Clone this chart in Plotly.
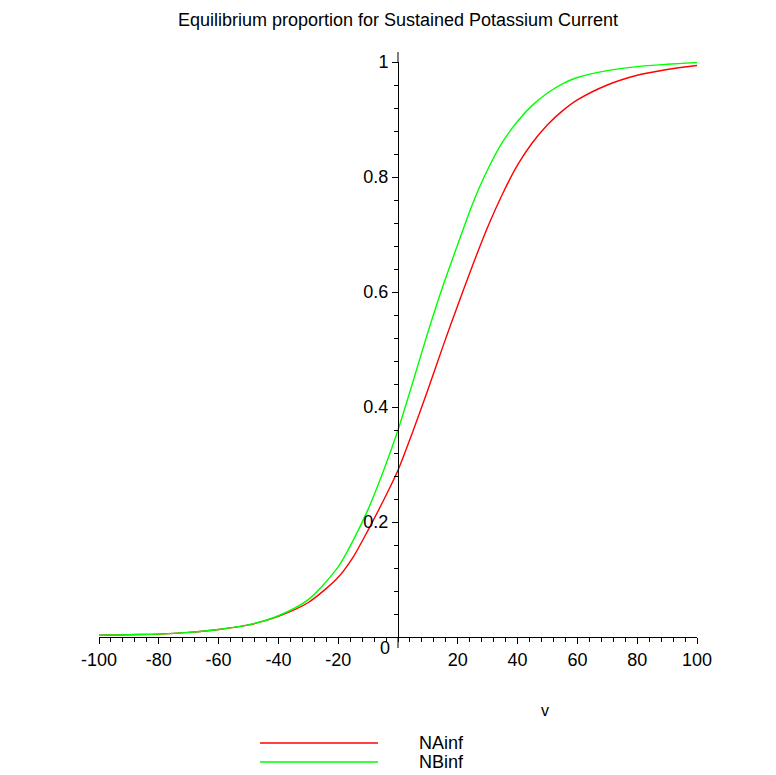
import plotly.graph_objects as go

# Data
v = [-100, -90, -80, -70, -60, -50, -40, -30, -20, -15, -10, -5, 0, 5, 10, 15, 20, 25, 30, 35,
     40, 45, 50, 55, 60, 70, 80, 90, 100]
na_inf = [0.003, 0.004, 0.005, 0.008, 0.013, 0.021, 0.036, 0.060, 0.104, 0.139, 0.186, 0.236,
          0.290, 0.358, 0.430, 0.505, 0.577, 0.647, 0.713, 0.771, 0.821, 0.860, 0.891, 0.915,
          0.934, 0.960, 0.977, 0.987, 0.994]
nb_inf = [0.003, 0.004, 0.005, 0.008, 0.013, 0.021, 0.037, 0.065, 0.122, 0.168, 0.222, 0.287,
          0.360, 0.444, 0.530, 0.610, 0.683, 0.754, 0.813, 0.861, 0.897, 0.925, 0.946, 0.962,
          0.973, 0.985, 0.992, 0.996, 0.999]
series_names = ["NAinf", "NBinf"]
series_colors = ["#ff0000", "#00ff00"]

x_ticks = [-100, -80, -60, -40, -20, 20, 40, 60, 80, 100]
x_ticklabels = ["-100", "-80", "-60", "-40", "-20", "20", "40", "60", "80", "100"]
y_ticks = [0.2, 0.4, 0.6, 0.8, 1.0]
y_ticklabels = ["0.2", "0.4", "0.6", "0.8", "1"]

FONT = "Liberation Sans, Arial, sans-serif"

fig = go.Figure()
for name, ys, col in zip(series_names, [na_inf, nb_inf], series_colors):
    fig.add_trace(go.Scatter(x=v, y=ys, mode="lines", name=name,
                             line=dict(color=col, width=1.4, shape="spline", smoothing=0.8),
                             showlegend=False))

W, H = 776, 775
L, R, T, B = 99, 79, 62, 138
pw, ph = W - L - R, H - T - B

def px(xp):
    return (xp - L) / pw

def py(yp):
    return (H - B - yp) / ph

fig.update_layout(
    width=W, height=H,
    margin=dict(l=L, r=R, t=T, b=B),
    paper_bgcolor="white", plot_bgcolor="white",
    font=dict(family=FONT, size=18, color="black"),
    title=dict(text="Equilibrium proportion for Sustained Potassium Current",
               x=0.5, xref="paper", xanchor="center",
               y=1 - 20 / H, yref="container", yanchor="middle",
               font=dict(family=FONT, size=18, color="black")),
    xaxis=dict(range=[-100, 100], showgrid=False, zeroline=False,
               showline=True, linecolor="black", linewidth=1,
               tickmode="array", tickvals=x_ticks, ticktext=x_ticklabels,
               ticks="outside", ticklen=6, tickcolor="black", tickwidth=1,
               minor=dict(tickmode="linear", tick0=0, dtick=4, ticks="outside",
                          ticklen=4, tickcolor="black", tickwidth=1),
               tickfont=dict(family=FONT, size=18, color="black"),
               anchor="y", fixedrange=True),
    yaxis=dict(range=[0, 1], showgrid=False, zeroline=False,
               showline=True, linecolor="black", linewidth=1,
               anchor="free", position=0.5, side="left",
               tickmode="array", tickvals=y_ticks, ticktext=y_ticklabels,
               ticks="outside", ticklen=6, tickcolor="black", tickwidth=1,
               minor=dict(tickmode="linear", tick0=0, dtick=0.04, ticks="outside",
                          ticklen=4, tickcolor="black", tickwidth=1),
               tickfont=dict(family=FONT, size=18, color="black"),
               fixedrange=True),
)

# origin label and axis label
fig.add_annotation(text="0", xref="paper", yref="paper", x=px(385), y=py(648),
                   showarrow=False, xanchor="center", yanchor="middle",
                   font=dict(family=FONT, size=18, color="black"))
fig.add_annotation(text="v", xref="paper", yref="paper", x=px(545), y=py(710),
                   showarrow=False, xanchor="center", yanchor="middle",
                   font=dict(family=FONT, size=16, color="black"))

# small axis extensions past the origin (as in the reference)
fig.add_shape(type="line", xref="paper", yref="paper", x0=0.5, x1=0.5, y0=py(648), y1=0,
              line=dict(color="black", width=1))
fig.add_shape(type="line", xref="paper", yref="paper", x0=0.5, x1=0.5, y0=1, y1=py(52),
              line=dict(color="black", width=1))

# legend drawn below the plot
for i, (name, col) in enumerate(zip(series_names, series_colors)):
    yl = 743 + 19 * i
    fig.add_shape(type="line", xref="paper", yref="paper", x0=px(260), x1=px(378),
                  y0=py(yl), y1=py(yl), line=dict(color=col, width=1.6))
    fig.add_annotation(text=name, xref="paper", yref="paper", x=px(417), y=py(yl),
                       showarrow=False, xanchor="left", yanchor="middle",
                       font=dict(family=FONT, size=18, color="black"))

fig.write_html("out.html")
